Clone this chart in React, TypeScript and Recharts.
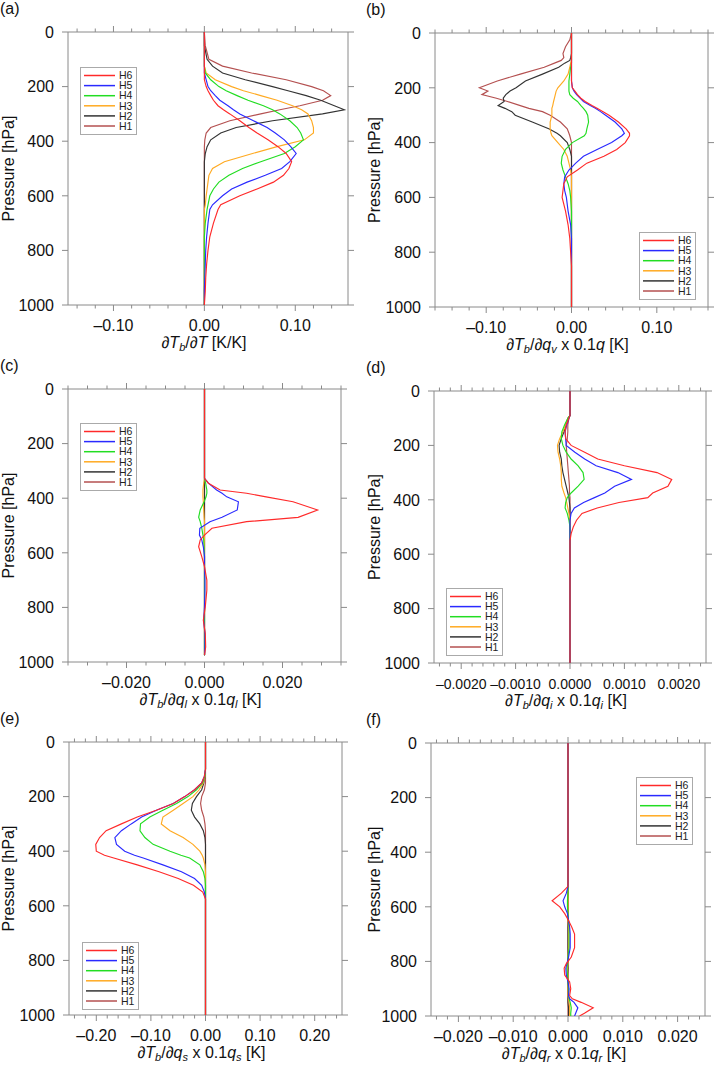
import React from 'react';
import { LineChart, Line, XAxis, YAxis, ReferenceArea } from 'recharts';

// series order is the legend order, top to bottom
const KEYS = ['h6', 'h5', 'h4', 'h3', 'h2', 'h1'];
const NAMES = ['H6', 'H5', 'H4', 'H3', 'H2', 'H1'];
const COLORS = ['#ff2a2a', '#2a2aff', '#22dd22', '#ffaa22', '#333333', '#b45050'];
const P_TICKS = [0, 200, 400, 600, 800, 1000];

// (a) dTb/dT
const PA = [0, 50, 100, 125, 150, 175, 200, 215, 233, 250, 270, 285, 300, 325, 350, 370, 395, 420, 445, 475, 500, 525, 550, 575, 600, 633, 650, 700, 750, 800, 850, 900, 950, 1000];
const A_H1 = [0, 0.001, 0.005, 0.02, 0.052, 0.09, 0.118, 0.131, 0.139, 0.13, 0.105, 0.083, 0.062, 0.028, 0.007, 0.002, 0.0005, 0, 0, 0, 0, 0, 0, 0, 0, 0, 0, 0, 0, 0, 0, 0, 0, 0];
const A_H2 = [0, 0, 0.003, 0.009, 0.02, 0.045, 0.075, 0.092, 0.112, 0.128, 0.143, 0.154, 0.13, 0.075, 0.035, 0.018, 0.007, 0.003, 0.001, 0, 0, 0, 0, 0, 0, 0, 0, 0, 0, 0, 0, 0, 0, 0];
const A_H3 = [0, 0, 0, 0, 0.002, 0.012, 0.03, 0.043, 0.062, 0.08, 0.097, 0.107, 0.114, 0.118, 0.12, 0.12, 0.11, 0.08, 0.053, 0.022, 0.009, 0.005, 0.004, 0.003, 0.002, 0.001, 0, 0, 0, 0, 0, 0, 0, 0];
const A_H4 = [0, 0, 0, 0, 0.001, 0.007, 0.016, 0.024, 0.036, 0.048, 0.065, 0.075, 0.083, 0.094, 0.102, 0.106, 0.109, 0.1, 0.088, 0.062, 0.042, 0.027, 0.016, 0.01, 0.006, 0.004, 0.003, 0.001, 0, 0, 0, 0, 0, 0];
const A_H5 = [0, 0, 0, 0, 0, 0.002, 0.004, 0.007, 0.012, 0.017, 0.026, 0.032, 0.039, 0.054, 0.069, 0.078, 0.088, 0.095, 0.101, 0.094, 0.085, 0.067, 0.047, 0.03, 0.02, 0.009, 0.006, 0.004, 0.0025, 0.0015, 0.001, 0.0005, 0, 0];
const A_H6 = [0, 0, 0, 0, 0, 0, 0.002, 0.004, 0.007, 0.01, 0.015, 0.021, 0.028, 0.039, 0.049, 0.058, 0.07, 0.081, 0.09, 0.096, 0.093, 0.087, 0.076, 0.058, 0.039, 0.018, 0.015, 0.01, 0.006, 0.004, 0.0025, 0.0015, 0.001, 0];

// (b) dTb/dqv
const PB = [0, 25, 50, 75, 90, 100, 110, 125, 150, 175, 200, 212, 225, 238, 250, 265, 275, 287, 300, 325, 350, 366, 375, 400, 425, 450, 475, 500, 525, 550, 575, 600, 650, 700, 750, 800, 850, 900, 1000];
const B_H1 = [0, -0.002, -0.007, -0.01, -0.009, -0.012, -0.02, -0.032, -0.06, -0.087, -0.108, -0.098, -0.105, -0.088, -0.075, -0.06, -0.05, -0.034, -0.025, -0.013, -0.005, -0.003, -0.002, 0, 0, 0, 0, 0, 0, 0, 0, 0, 0, 0, 0, 0, 0, 0, 0];
const B_H2 = [0, 0, 0, 0, -0.001, -0.002, -0.008, -0.015, -0.034, -0.054, -0.065, -0.072, -0.077, -0.08, -0.079, -0.086, -0.078, -0.07, -0.066, -0.046, -0.026, -0.017, -0.013, -0.005, -0.002, 0, 0, 0, 0, 0, 0, 0, 0, 0, 0, 0, 0, 0, 0];
const B_H3 = [0, 0, 0, 0, 0, 0, -0.001, -0.002, -0.004, -0.009, -0.016, -0.018, -0.019, -0.02, -0.021, -0.022, -0.023, -0.023, -0.023, -0.025, -0.025, -0.024, -0.023, -0.016, -0.009, -0.005, -0.003, -0.001, 0, 0, 0, 0, 0, 0, 0, 0, 0, 0, 0];
const B_H4 = [0, 0, 0, 0, 0, 0, 0, -0.001, -0.002, -0.003, -0.003, -0.003, -0.002, 0.002, 0.007, 0.011, 0.014, 0.017, 0.019, 0.02, 0.018, 0.017, 0.015, 0.001, -0.007, -0.011, -0.012, -0.01, -0.007, -0.004, -0.002, -0.001, 0, 0, 0, 0, 0, 0, 0];
const B_H5 = [0, 0, 0, 0, 0, 0, 0, 0, 0, 0, 0.001, 0.003, 0.006, 0.01, 0.014, 0.022, 0.028, 0.034, 0.04, 0.051, 0.059, 0.062, 0.059, 0.047, 0.03, 0.014, 0.005, -0.003, -0.008, -0.009, -0.008, -0.006, -0.004, -0.001, 0, 0, 0, 0, 0];
const B_H6 = [0, 0, 0, 0, 0, 0, 0, 0, 0, 0, 0.001, 0.004, 0.007, 0.011, 0.016, 0.024, 0.03, 0.037, 0.044, 0.055, 0.064, 0.068, 0.068, 0.063, 0.053, 0.038, 0.018, 0.007, -0.005, -0.009, -0.01, -0.011, -0.007, -0.004, -0.002, -0.001, 0, 0, 0];

// (c) dTb/dql
const PC = [0, 327, 345, 370, 382, 395, 413, 443, 470, 486, 510, 535, 553, 578, 614, 651, 700, 737, 798, 847, 896, 945, 975];
const C_H1 = [0, 0, 0, 0, 0, 0, 0, 0, 0, 0, 0, 0, 0, 0, 0, 0, 0, 0, 0, 0, 0, 0, 0];
const C_H2 = [0, 0, 0, 0, 0, 0, 0, 0, 0, 0, 0, 0, 0, 0, 0, 0, 0, 0, 0, 0, 0, 0, 0];
const C_H3 = [0, 0, -0.0002, -0.0004, -0.0004, -0.0004, -0.0003, -0.0002, -0.0001, 0, 0, 0, 0, 0, 0, 0, 0, 0, 0, 0, 0, 0, 0];
const C_H4 = [0, 0, 0.0003, 0.0006, 0.0006, 0.0004, -0.0001, -0.0011, -0.0015, -0.0011, -0.0007, -0.0004, -0.0002, -0.0001, 0, 0, 0, 0, 0, 0, 0, 0, 0];
const C_H5 = [0, 0, 0.001, 0.0031, 0.0045, 0.0057, 0.0087, 0.0084, 0.0045, 0.0014, -0.0012, -0.0013, -0.0007, -0.0003, 0, 0, 0.0001, 0.0001, 0, -0.0002, 0.0001, 0.0001, 0];
const C_H6 = [0, 0, 0.001, 0.004, 0.0108, 0.0158, 0.0227, 0.029, 0.024, 0.0108, 0.0019, 0, -0.0011, -0.0015, -0.0007, 0, 0.0006, 0.0006, 0.0002, -0.0003, 0.0002, 0.0003, 0];

// (d) dTb/dqi
const PD = [0, 90, 100, 125, 150, 175, 200, 225, 250, 275, 300, 325, 350, 375, 392, 410, 430, 450, 475, 500, 525, 550, 1000];
const D_H1 = [0, 0, -0.00002, -0.00004, -0.00004, -0.00005, -0.00007, -0.00006, -0.00005, -0.00004, -0.00003, -0.00002, -0.00001, -0.00001, 0, 0, 0, 0, 0, 0, 0, 0, 0];
const D_H2 = [0, 0, -0.00004, -0.00007, -0.00011, -0.00016, -0.0002, -0.00019, -0.00016, -0.00015, -0.00013, -0.0001, -0.00007, -0.00004, -0.00002, -0.00001, 0, 0, 0, 0, 0, 0, 0];
const D_H3 = [0, 0, -0.00004, -0.00008, -0.00013, -0.00019, -0.00023, -0.00022, -0.00019, -0.00017, -0.00016, -0.00016, -0.00015, -0.00011, -0.00008, -0.00006, -0.00004, -0.00002, 0, 0, 0, 0, 0];
const D_H4 = [0, 0, -0.00004, -0.0001, -0.00015, -0.00016, -0.00013, -0.00007, 0.00002, 0.00015, 0.00024, 0.00026, 0.00015, 0.00002, -0.00005, -0.00008, -0.00009, -0.00005, -0.00002, 0, 0, 0, 0];
const D_H5 = [0, 0, -0.00002, -0.00006, -0.00009, -0.00008, -0.00007, 0.00009, 0.00027, 0.00048, 0.00088, 0.00113, 0.00082, 0.00064, 0.00045, 0.00025, 0.00008, 0.00002, 0, 0, 0, 0, 0];
const D_H6 = [0, 0, -0.00002, -0.00007, -0.00009, -0.00008, 0.00002, 0.00027, 0.00051, 0.001, 0.0016, 0.00187, 0.0018, 0.00152, 0.00143, 0.0009, 0.0005, 0.00022, 0.00012, 0.00006, 0.00002, 0, 0];

// (e) dTb/dqs
const PE = [0, 100, 125, 150, 175, 200, 225, 250, 275, 300, 325, 350, 375, 400, 415, 425, 450, 475, 500, 525, 550, 575, 1000];
const E_H1 = [0, 0, 0, 0, -0.002, -0.007, -0.009, -0.007, -0.003, -0.001, 0, 0, 0, 0, 0, 0, 0, 0, 0, 0, 0, 0, 0];
const E_H2 = [0, 0, -0.001, -0.003, -0.007, -0.0165, -0.024, -0.026, -0.02, -0.0104, -0.004, -0.001, 0, 0, 0, 0, 0, 0, 0, 0, 0, 0, 0];
const E_H3 = [0, 0, -0.001, -0.004, -0.0116, -0.023, -0.041, -0.059, -0.078, -0.081, -0.065, -0.041, -0.023, -0.0104, -0.006, -0.004, -0.001, 0, 0, 0, 0, 0, 0];
const E_H4 = [0, 0, -0.001, -0.0055, -0.0165, -0.032, -0.053, -0.078, -0.102, -0.119, -0.12, -0.111, -0.096, -0.065, -0.045, -0.029, -0.0104, -0.004, -0.001, 0, 0, 0, 0];
const E_H5 = [0, 0, -0.002, -0.007, -0.02, -0.038, -0.059, -0.09, -0.117, -0.136, -0.154, -0.166, -0.163, -0.148, -0.13, -0.114, -0.078, -0.044, -0.02, -0.007, -0.002, 0, 0];
const E_H6 = [0, 0, -0.002, -0.007, -0.02, -0.038, -0.059, -0.09, -0.125, -0.154, -0.182, -0.194, -0.201, -0.2, -0.185, -0.168, -0.125, -0.085, -0.05, -0.022, -0.005, 0, 0];

// (f) dTb/dqr
const PF = [0, 525, 550, 578, 600, 625, 650, 675, 700, 750, 784, 808, 825, 850, 875, 900, 925, 937, 950, 970, 990, 1000];
const F_H1 = [0, 0, 0, 0, 0, 0, 0, 0, 0, 0, 0, 0, 0, 0, 0, 0, 0, 0, 0, 0, 0, 0];
const F_H2 = [0, 0, 0, 0, 0, 0, 0, 0, 0, 0, 0, 0, 0, 0, 0, 0, 0, 0, 0, 0.0001, 0.0001, 0.0001];
const F_H3 = [0, 0, 0, 0, 0, 0, 0, 0.0001, 0.0001, 0.0001, 0, 0, -0.0001, 0, 0, 0, 0, 0.0001, 0.0002, 0.0003, 0.0003, 0.0003];
const F_H4 = [0, 0, 0, -0.0001, -0.0001, 0, 0.0001, 0.0002, 0.0002, 0.0002, 0, -0.0001, -0.0002, -0.0001, 0, 0.0001, 0.0001, 0.0002, 0.0004, 0.0006, 0.0005, 0.0005];
const F_H5 = [0, 0, -0.0003, -0.0009, -0.0006, -0.0001, 0.0001, 0.0003, 0.0004, 0.0004, 0.0001, -0.0002, -0.0004, -0.0003, 0, 0.0002, 0.0001, 0.0003, 0.0011, 0.0018, 0.0014, 0.0012];
const F_H6 = [0, 0, -0.0012, -0.0029, -0.0015, -0.0006, 0.0001, 0.0007, 0.0012, 0.0012, 0.0006, -0.0003, -0.0007, -0.0006, 0.0003, 0.0005, 0.0003, 0.0008, 0.0024, 0.0046, 0.003, 0.0021];

const FRAME = '#8a8a8a';
const INK = '#111';
const YW = 70;
const MT = 10;
const MR = 8;
const XH = 34;

const toRows = (p: number[], cols: number[][]) =>
  p.map((pv, i) => {
    const row: any = { p: pv };
    KEYS.forEach((k, j) => { row[k] = cols[j][i]; });
    return row;
  });

const PANELS = [
  { tag: '(a)', rows: toRows(PA, [A_H6, A_H5, A_H4, A_H3, A_H2, A_H1]), domain: [-0.15, 0.158], step: 0.02, every: 5, dec: 2, fs: 16,
    left: 68, top: 32, w: 280, h: 273, legend: [80, 67], sub: '', tail: '' },
  { tag: '(b)', rows: toRows(PB, [B_H6, B_H5, B_H4, B_H3, B_H2, B_H1]), domain: [-0.16, 0.16], step: 0.02, every: 5, dec: 2, fs: 16,
    left: 435, top: 33, w: 273, h: 274, legend: [639, 232], sub: 'v', tail: '' },
  { tag: '(c)', rows: toRows(PC, [C_H6, C_H5, C_H4, C_H3, C_H2, C_H1]), domain: [-0.035, 0.035], step: 0.005, every: 4, dec: 3, fs: 16,
    left: 68, top: 389, w: 273, h: 273, legend: [80, 423], sub: 'l', tail: 'l' },
  { tag: '(d)', rows: toRows(PD, [D_H6, D_H5, D_H4, D_H3, D_H2, D_H1]), domain: [-0.0025, 0.0025], step: 0.0002, every: 5, dec: 4, fs: 14,
    left: 434, top: 391, w: 272, h: 272, legend: [446, 588], sub: 'i', tail: 'i' },
  { tag: '(e)', rows: toRows(PE, [E_H6, E_H5, E_H4, E_H3, E_H2, E_H1]), domain: [-0.25, 0.25], step: 0.02, every: 5, dec: 2, fs: 16,
    left: 69, top: 742, w: 273, h: 273, legend: [82, 942], sub: 's', tail: 's' },
  { tag: '(f)', rows: toRows(PF, [F_H6, F_H5, F_H4, F_H3, F_H2, F_H1]), domain: [-0.025, 0.025], step: 0.002, every: 5, dec: 3, fs: 16,
    left: 431, top: 743, w: 274, h: 273, legend: [636, 777], sub: 'r', tail: 'r' },
];

const fmt = (v: number, dec: number) => {
  if (Math.abs(v) < 1e-12) return (0).toFixed(dec);
  return (v < 0 ? '\u2013' : '') + Math.abs(v).toFixed(dec);
};

const tickList = (domain: number[], step: number) => {
  const out: number[] = [];
  const k0 = Math.ceil(domain[0] / step - 1e-6);
  const k1 = Math.floor(domain[1] / step + 1e-6);
  for (let k = k0; k <= k1; k++) out.push(+(k * step).toFixed(8));
  return out;
};

const makeXTick = (h: number, step: number, every: number, dec: number, fs: number) => (props: any) => {
  const { x, y, payload } = props;
  const k = Math.round(payload.value / step);
  const major = k % every === 0;
  const len = major ? 6 : 3.5;
  const top = y - h;
  return (
    <g>
      <line x1={x} x2={x} y1={y} y2={y + len} stroke={FRAME} />
      <line x1={x} x2={x} y1={top} y2={top - len} stroke={FRAME} />
      {major && (
        <text x={x} y={y + 26} textAnchor="middle" fontSize={fs} fill={INK}>{fmt(payload.value, dec)}</text>
      )}
    </g>
  );
};

const makeYTick = (w: number) => (props: any) => {
  const { x, y, payload } = props;
  return (
    <g>
      <line x1={x} x2={x - 6} y1={y} y2={y} stroke={FRAME} />
      <line x1={x + w} x2={x + w + 6} y1={y} y2={y} stroke={FRAME} />
      <text x={x - 14} y={y} dy="0.36em" textAnchor="end" fontSize={16} fill={INK}>{payload.value}</text>
    </g>
  );
};

const Panel = ({ cfg }: { cfg: any }) => {
  const width = YW + cfg.w + MR;
  const height = MT + cfg.h + XH;
  return (
    <div style={{ position: 'absolute', left: cfg.left - YW, top: cfg.top - MT, width, height }}>
      <LineChart width={width} height={height} data={cfg.rows} layout="vertical"
        margin={{ top: MT, right: MR, bottom: 0, left: 0 }}>
        <XAxis type="number" domain={cfg.domain} allowDataOverflow ticks={tickList(cfg.domain, cfg.step)}
          interval={0} height={XH} tickSize={0} tickMargin={0} axisLine={false} tickLine={false}
          tick={makeXTick(cfg.h, cfg.step, cfg.every, cfg.dec, cfg.fs)} />
        <YAxis type="number" dataKey="p" domain={[0, 1000]} allowDataOverflow ticks={P_TICKS}
          interval={0} width={YW} tickSize={0} tickMargin={0} axisLine={false} tickLine={false}
          tick={makeYTick(cfg.w)} />
        <ReferenceArea x1={cfg.domain[0]} x2={cfg.domain[1]} y1={0} y2={1000} fill="none" stroke={FRAME} strokeWidth={1} />
        {KEYS.map((k, i) => (
          <Line key={k} dataKey={k} type="linear" stroke={COLORS[i]} strokeWidth={1.15} dot={false}
            activeDot={false} isAnimationActive={false} />
        )).reverse()}
      </LineChart>
    </div>
  );
};

const LegendBox = ({ x, y }: { x: number; y: number }) => (
  <div style={{ position: 'absolute', left: x, top: y, width: 57, height: 68, border: '1px solid #aaa', background: '#fff', boxSizing: 'border-box' }}>
    <svg width={55} height={66} style={{ display: 'block' }}>
      {NAMES.map((n, i) => {
        const cy = 7.5 + i * 10.1;
        return (
          <g key={n}>
            <line x1={3} x2={34} y1={cy} y2={cy} stroke={COLORS[i]} strokeWidth={1.5} />
            <text x={38} y={cy} dy="0.36em" fontSize={10.5} fill="#222">{n}</text>
          </g>
        );
      })}
    </svg>
  </div>
);

const Title = ({ cfg }: { cfg: any }) => {
  const cx = cfg.left + cfg.w / 2 - 4;
  const cy = cfg.top + cfg.h + 43;
  const it = { fontStyle: 'italic' as const };
  return (
    <text x={cx} y={cy} textAnchor="middle" fontSize={16} fill={INK}>
      {'\u2202'}<tspan {...it}>T</tspan>
      <tspan {...it} fontSize={11} dy={3}>b</tspan>
      <tspan dy={-3}>/{'\u2202'}</tspan>
      {cfg.sub === '' ? (
        <tspan><tspan {...it}>T</tspan> [K/K]</tspan>
      ) : (
        <tspan>
          <tspan {...it}>q</tspan>
          <tspan {...it} fontSize={11} dy={3}>{cfg.sub}</tspan>
          <tspan dy={-3}> x 0.1</tspan>
          <tspan {...it}>q</tspan>
          {cfg.tail !== '' && <tspan {...it} fontSize={11} dy={3}>{cfg.tail}</tspan>}
          <tspan dy={cfg.tail !== '' ? -3 : 0}> [K]</tspan>
        </tspan>
      )}
    </text>
  );
};

export default function App() {
  return (
    <div style={{ position: 'absolute', left: 0, top: 0, width: 716, height: 1067, overflow: 'hidden', background: '#fff',
      fontFamily: '"Liberation Sans", Arial, Helvetica, sans-serif' }}>
      {PANELS.map((cfg) => <Panel key={cfg.tag} cfg={cfg} />)}
      <svg width={716} height={1067} style={{ position: 'absolute', left: 0, top: 0, pointerEvents: 'none' }}>
        {PANELS.map((cfg) => {
          const lx = cfg.left < 200 ? 14 : 380;
          const my = cfg.top + cfg.h / 2;
          return (
            <g key={cfg.tag}>
              <text x={cfg.left < 200 ? 0 : 366} y={cfg.top - 18} fontSize={16} fill={INK}>{cfg.tag}</text>
              <text x={lx} y={my} transform={`rotate(-90 ${lx} ${my})`} textAnchor="middle" fontSize={16} fill={INK}>Pressure [hPa]</text>
              <Title cfg={cfg} />
            </g>
          );
        })}
      </svg>
      {PANELS.map((cfg) => <LegendBox key={cfg.tag} x={cfg.legend[0]} y={cfg.legend[1]} />)}
    </div>
  );
}
